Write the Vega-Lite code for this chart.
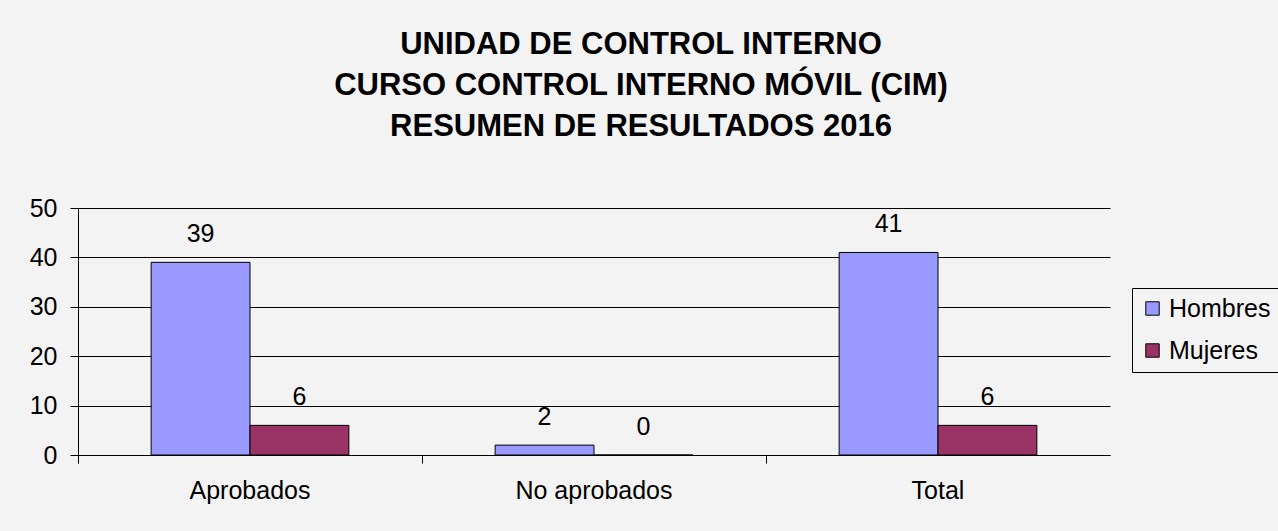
{
  "$schema": "https://vega.github.io/schema/vega-lite/v6.json",
  "autosize": "none",
  "width": 1032,
  "height": 247,
  "padding": {"left": 78, "top": 208, "right": 168, "bottom": 76},
  "background": "#f3f3f3",
  "title": {
    "text": ["UNIDAD DE CONTROL INTERNO", "CURSO CONTROL INTERNO MÓVIL (CIM)", "RESUMEN DE RESULTADOS 2016"],
    "font": "Liberation Sans",
    "fontSize": 31,
    "fontWeight": "bold",
    "color": "#000000",
    "lineHeight": 41,
    "anchor": "middle",
    "frame": "group",
    "dx": 47,
    "offset": 53
  },
  "data": {
    "values": [
      {"categoria": "Aprobados", "sexo": "Hombres", "valor": 39},
      {"categoria": "Aprobados", "sexo": "Mujeres", "valor": 6},
      {"categoria": "No aprobados", "sexo": "Hombres", "valor": 2},
      {"categoria": "No aprobados", "sexo": "Mujeres", "valor": 0},
      {"categoria": "Total", "sexo": "Hombres", "valor": 41},
      {"categoria": "Total", "sexo": "Mujeres", "valor": 6}
    ]
  },
  "encoding": {
    "x": {
      "field": "categoria",
      "type": "nominal",
      "sort": ["Aprobados", "No aprobados", "Total"],
      "scale": {"paddingInner": 0, "paddingOuter": 0},
      "axis": {
        "title": null,
        "labelAngle": 0,
        "bandPosition": 0,
        "tickExtra": true,
        "tickSize": 8,
        "tickColor": "#000000",
        "domainColor": "#000000",
        "labelFont": "Liberation Sans",
        "labelFontSize": 25,
        "labelColor": "#000000",
        "labelPadding": 15,
        "grid": false
      }
    },
    "xOffset": {
      "field": "sexo",
      "type": "nominal",
      "sort": ["Hombres", "Mujeres"],
      "scale": {"paddingInner": 0, "paddingOuter": 0.74}
    },
    "y": {
      "field": "valor",
      "type": "quantitative",
      "scale": {"domain": [0, 50], "nice": false},
      "axis": {
        "title": null,
        "values": [0, 10, 20, 30, 40, 50],
        "tickSize": 8,
        "tickColor": "#000000",
        "domainColor": "#000000",
        "grid": true,
        "gridColor": "#000000",
        "gridOpacity": 1,
        "labelFont": "Liberation Sans",
        "labelFontSize": 25,
        "labelColor": "#000000",
        "labelPadding": 13
      }
    }
  },
  "layer": [
    {
      "mark": {"type": "bar", "stroke": "#000000", "strokeWidth": 1},
      "encoding": {
        "color": {
          "field": "sexo",
          "type": "nominal",
          "scale": {"domain": ["Hombres", "Mujeres"], "range": ["#9999ff", "#993366"]},
          "legend": {
            "title": null,
            "orient": "none",
            "legendX": 1054,
            "legendY": 80,
            "strokeColor": "#000000",
            "fillColor": "#f3f3f3",
            "padding": 8,
            "symbolType": "square",
            "symbolSize": 180,
            "symbolStrokeColor": "#000000",
            "symbolStrokeWidth": 1,
            "symbolOpacity": 1,
            "labelFont": "Liberation Sans",
            "labelFontSize": 25,
            "labelColor": "#000000",
            "labelOffset": 4,
            "rowPadding": 16
          }
        }
      }
    },
    {
      "mark": {"type": "text", "baseline": "middle", "dy": -28, "font": "Liberation Sans", "fontSize": 25, "color": "#000000"},
      "encoding": {
        "text": {"field": "valor", "type": "quantitative"}
      }
    }
  ],
  "config": {
    "view": {"stroke": null}
  }
}
